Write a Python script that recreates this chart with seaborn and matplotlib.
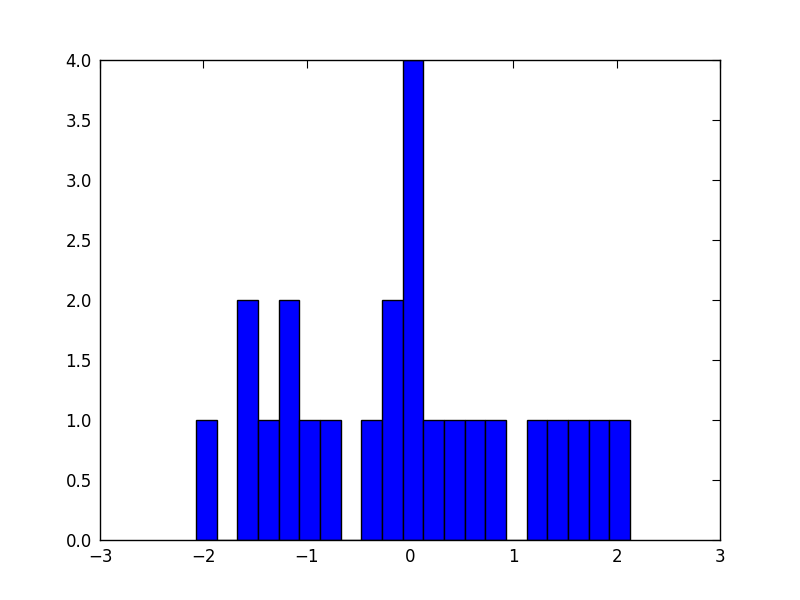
import numpy as np
import pandas as pd
import seaborn as sns
import matplotlib
matplotlib.use('Agg')
import matplotlib.pyplot as plt

# Histogram: 21 equal bins between these edges
bin_lo = -2.07
bin_hi = 2.13
counts = [1, 0, 2, 1, 2, 1, 1, 0, 1, 2, 4, 1, 1, 1, 1, 0, 1, 1, 1, 1, 1]

x_ticks = [-3, -2, -1, 0, 1, 2, 3]
y_ticks = [0.0, 0.5, 1.0, 1.5, 2.0, 2.5, 3.0, 3.5, 4.0]

n_bins = len(counts)
edges = np.linspace(bin_lo, bin_hi, n_bins + 1)
centers = (edges[:-1] + edges[1:]) / 2
df = pd.DataFrame({'value': centers, 'count': counts})

sns.set_style('white')
plt.rcParams['font.family'] = ['DejaVu Sans']

fig = plt.figure(figsize=(8, 6), dpi=100)
ax = fig.add_axes([0.125, 0.1, 0.775, 0.8])

sns.histplot(data=df, x='value', weights='count', bins=n_bins,
             binrange=(bin_lo, bin_hi), ax=ax,
             color='#0000ff', edgecolor='black', linewidth=1.0, alpha=1.0)

ax.set_xlim(-3, 3)
ax.set_ylim(0, 4)
ax.set_xticks(x_ticks)
ax.set_yticks(y_ticks)
ax.set_xticklabels(['\u22123', '\u22122', '\u22121', '0', '1', '2', '3'])
ax.set_yticklabels([f'{v:.1f}' for v in y_ticks])
ax.set_xlabel('')
ax.set_ylabel('')
ax.tick_params(direction='in', length=6, width=0.8, top=True, right=True,
               labelsize=12, colors='black', pad=6)
for s in ax.spines.values():
    s.set_visible(True)
    s.set_color('black')
    s.set_linewidth(1.0)

fig.savefig('out.png', dpi=100, facecolor='white')
